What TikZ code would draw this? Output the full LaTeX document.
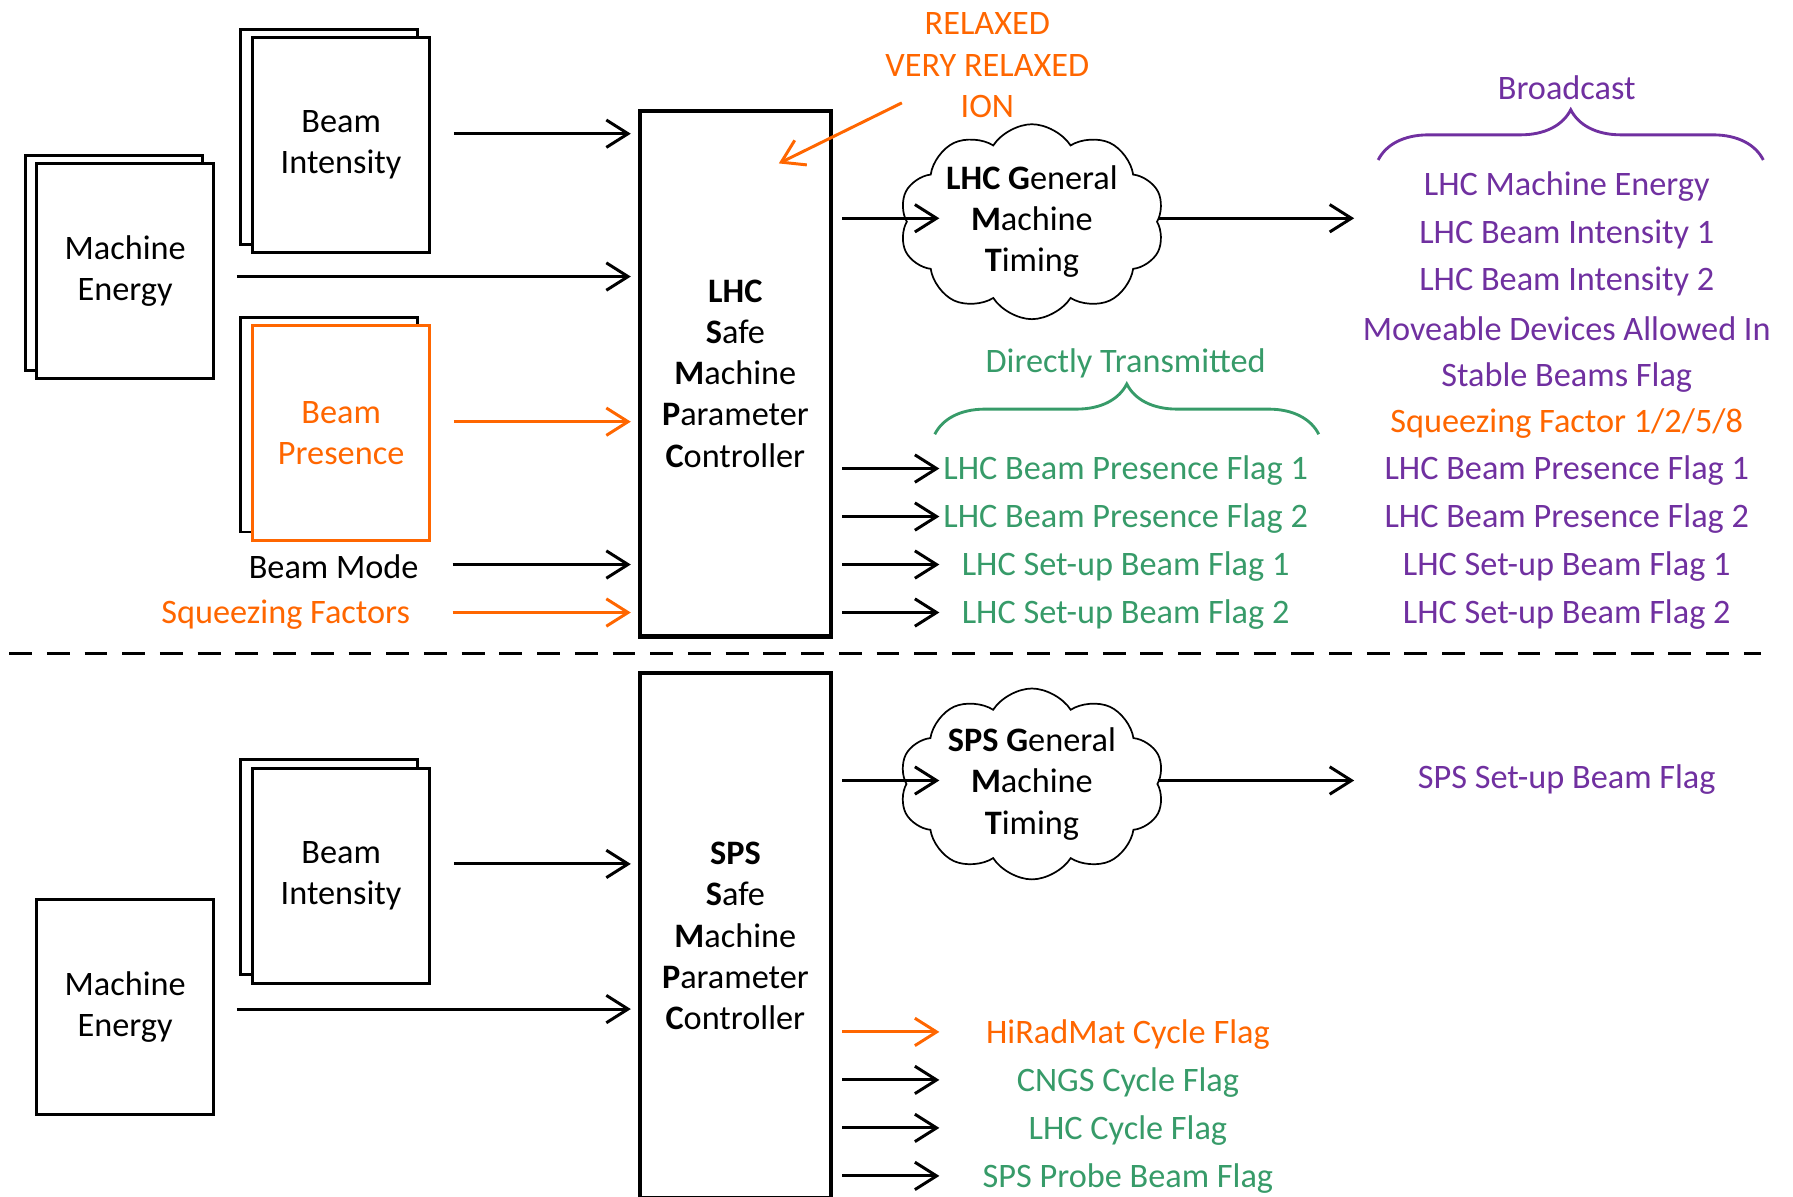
\documentclass[tikz,border=0pt]{standalone}
\usepackage{fontspec}
\setmainfont{Carlito}
\usetikzlibrary{positioning,arrows.meta,shapes.symbols,decorations.pathreplacing}
\definecolor{smpOrange}{RGB}{255,102,0}
\definecolor{smpGreen}{RGB}{55,155,105}
\definecolor{smpPurple}{RGB}{112,48,160}

\begin{document}
\begin{tikzpicture}[x=1pt,y=-1pt,
    every node/.style={font=\fontsize{30}{36}\selectfont},
    page/.style={draw,line width=2.5pt,fill=white,minimum width=155pt,minimum height=188pt,align=center,inner sep=0pt},
    ctrl/.style={draw,line width=4pt,minimum width=167pt,minimum height=460pt,align=center,inner sep=0pt},
    timing/.style={cloud,draw,line width=1.5pt,cloud puffs=10,cloud puff arc=115,aspect=1.5,minimum width=232pt,minimum height=155pt,inner sep=0pt,align=center},
    arr/.style={line width=2.6pt,-{Straight Barb[length=19pt,width=24pt]}},
    inarr/.style={arr,shorten >=6pt},
    brc/.style={decorate,decoration={brace,amplitude=44pt},line width=2.5pt},
    orng/.style={text=smpOrange},
    grn/.style={text=smpGreen},
    prp/.style={text=smpPurple}]

  \useasboundingbox (0,0) rectangle (1569,1047);

  % LHC inputs
  \node[page] (me1b) at (99.5,230) {};
  \node[page] (me1) at (109.5,237) {Machine\\Energy};
  \node[page] (bi1b) at (288,120) {};
  \node[page] (bi1) at (298.5,127) {Beam\\Intensity};
  \node[page] (bpb) at (288,371.5) {};
  \node[page,draw=smpOrange,orng] (bp) at (298.5,379) {Beam\\Presence};
  \node (bm) at (292,496) {Beam Mode};
  \node[orng] (sf) at (250,538) {Squeezing Factors};

  \node[ctrl] (lhc) at (643.5,327) {\textbf{LHC}\\\textbf{S}afe\\\textbf{M}achine\\\textbf{P}arameter\\\textbf{C}ontroller};
  \node[orng,align=center] (relax) at (864,57) {RELAXED\\VERY RELAXED\\ION};
  \node[timing] (lgmt) at (903,194) {\textbf{LHC G}eneral\\\textbf{M}achine\\\textbf{T}iming};

  \coordinate (incol) at (396,0);
  \coordinate (outcol) at ([xshift=8pt]lhc.east);
  \coordinate (tipcol) at (822,0);
  \coordinate (bcol) at (1185,0);

  \coordinate (i1) at ([xshift=20pt,yshift=10pt]bi1.east);
  \draw[inarr] (i1) -- (i1 -| lhc.west);
  \coordinate (i2) at ([xshift=19pt,yshift=-5pt]me1.east);
  \draw[inarr] (i2) -- (i2 -| lhc.west);
  \coordinate (i3) at ([xshift=20pt,yshift=10pt]bp.east);
  \draw[inarr,smpOrange] (i3) -- (i3 -| lhc.west);
  \draw[inarr] ([yshift=2pt]incol |- bm) -- ([yshift=2pt]lhc.west |- bm);
  \draw[inarr,smpOrange] ([yshift=2pt]incol |- sf) -- ([yshift=2pt]lhc.west |- sf);
  \draw[arr,smpOrange] ([xshift=18pt,yshift=-33pt]relax.west) -- ([xshift=38pt,yshift=-48pt]lhc.north);

  % LHC outputs
  \coordinate (c1) at ([yshift=3pt]lgmt.center);
  \draw[arr] (outcol |- c1) -- (tipcol |- c1);
  \draw[arr] (c1 -| lgmt.east) -- (bcol |- c1);

  \node[grn] (direct) at (985,318) {Directly Transmitted};
  \draw[brc,smpGreen] (818,380) -- (1154,380);
  \node[grn] (d1) at (985,412) {LHC Beam Presence Flag 1};
  \node[grn] (d2) at (985,454) {LHC Beam Presence Flag 2};
  \node[grn] (d3) at (985,496) {LHC Set-up Beam Flag 1};
  \node[grn] (d4) at (985,538) {LHC Set-up Beam Flag 2};
  \draw[arr] ([yshift=2pt]outcol |- d1) -- ([yshift=2pt]tipcol |- d1);
  \draw[arr] ([yshift=2pt]outcol |- d2) -- ([yshift=2pt]tipcol |- d2);
  \draw[arr] ([yshift=2pt]outcol |- d3) -- ([yshift=2pt]tipcol |- d3);
  \draw[arr] ([yshift=2pt]outcol |- d4) -- ([yshift=2pt]tipcol |- d4);

  \node[prp] (bcast) at (1371,77) {Broadcast};
  \draw[brc,smpPurple] (1206,140) -- (1543,140);
  \node[prp] (b1) at (1371,163) {LHC Machine Energy};
  \node[prp] (b2) at (1371,205) {LHC Beam Intensity 1};
  \node[prp] (b3) at (1371,246) {LHC Beam Intensity 2};
  \node[prp] (b4) at (1371,288) {Moveable Devices Allowed In};
  \node[prp] (b5) at (1371,330) {Stable Beams Flag};
  \node[orng] (b6) at (1371,371) {Squeezing Factor 1/2/5/8};
  \node[prp] (b7) at (1371,412) {LHC Beam Presence Flag 1};
  \node[prp] (b8) at (1371,454) {LHC Beam Presence Flag 2};
  \node[prp] (b9) at (1371,496) {LHC Set-up Beam Flag 1};
  \node[prp] (b10) at (1371,538) {LHC Set-up Beam Flag 2};

  \draw[line width=2.5pt,dash pattern=on 20pt off 13pt] (8,572) -- (1541,572);

  % SPS part
  \node[page] (bi2b) at (288,758.5) {};
  \node[page] (bi2) at (298.5,766.5) {Beam\\Intensity};
  \node[page] (me2) at (109.5,881) {Machine\\Energy};

  \node[ctrl] (spsc) at (643.5,819) {\textbf{SPS}\\\textbf{S}afe\\\textbf{M}achine\\\textbf{P}arameter\\\textbf{C}ontroller};
  \node[timing] (sgmt) at (903,686) {\textbf{SPS G}eneral\\\textbf{M}achine\\\textbf{T}iming};
  \node[prp] (sflag) at (1371,682) {SPS Set-up Beam Flag};

  \coordinate (i6) at ([xshift=20pt,yshift=10.5pt]bi2.east);
  \draw[inarr] (i6) -- (i6 -| spsc.west);
  \coordinate (i7) at ([xshift=19pt,yshift=-2pt]me2.east);
  \draw[inarr] (i7) -- (i7 -| spsc.west);

  \coordinate (c2) at ([yshift=3pt]sgmt.center);
  \draw[arr] (outcol |- c2) -- (tipcol |- c2);
  \draw[arr] (c2 -| sgmt.east) -- (bcol |- c2);

  \node[orng] (h1) at (987,905) {HiRadMat Cycle Flag};
  \node[grn] (h2) at (987,947) {CNGS Cycle Flag};
  \node[grn] (h3) at (987,989) {LHC Cycle Flag};
  \node[grn] (h4) at (987,1031) {SPS Probe Beam Flag};
  \draw[arr,smpOrange] ([yshift=2pt]outcol |- h1) -- ([yshift=2pt]tipcol |- h1);
  \draw[arr] ([yshift=2pt]outcol |- h2) -- ([yshift=2pt]tipcol |- h2);
  \draw[arr] ([yshift=2pt]outcol |- h3) -- ([yshift=2pt]tipcol |- h3);
  \draw[arr] ([yshift=2pt]outcol |- h4) -- ([yshift=2pt]tipcol |- h4);
\end{tikzpicture}
\end{document}
